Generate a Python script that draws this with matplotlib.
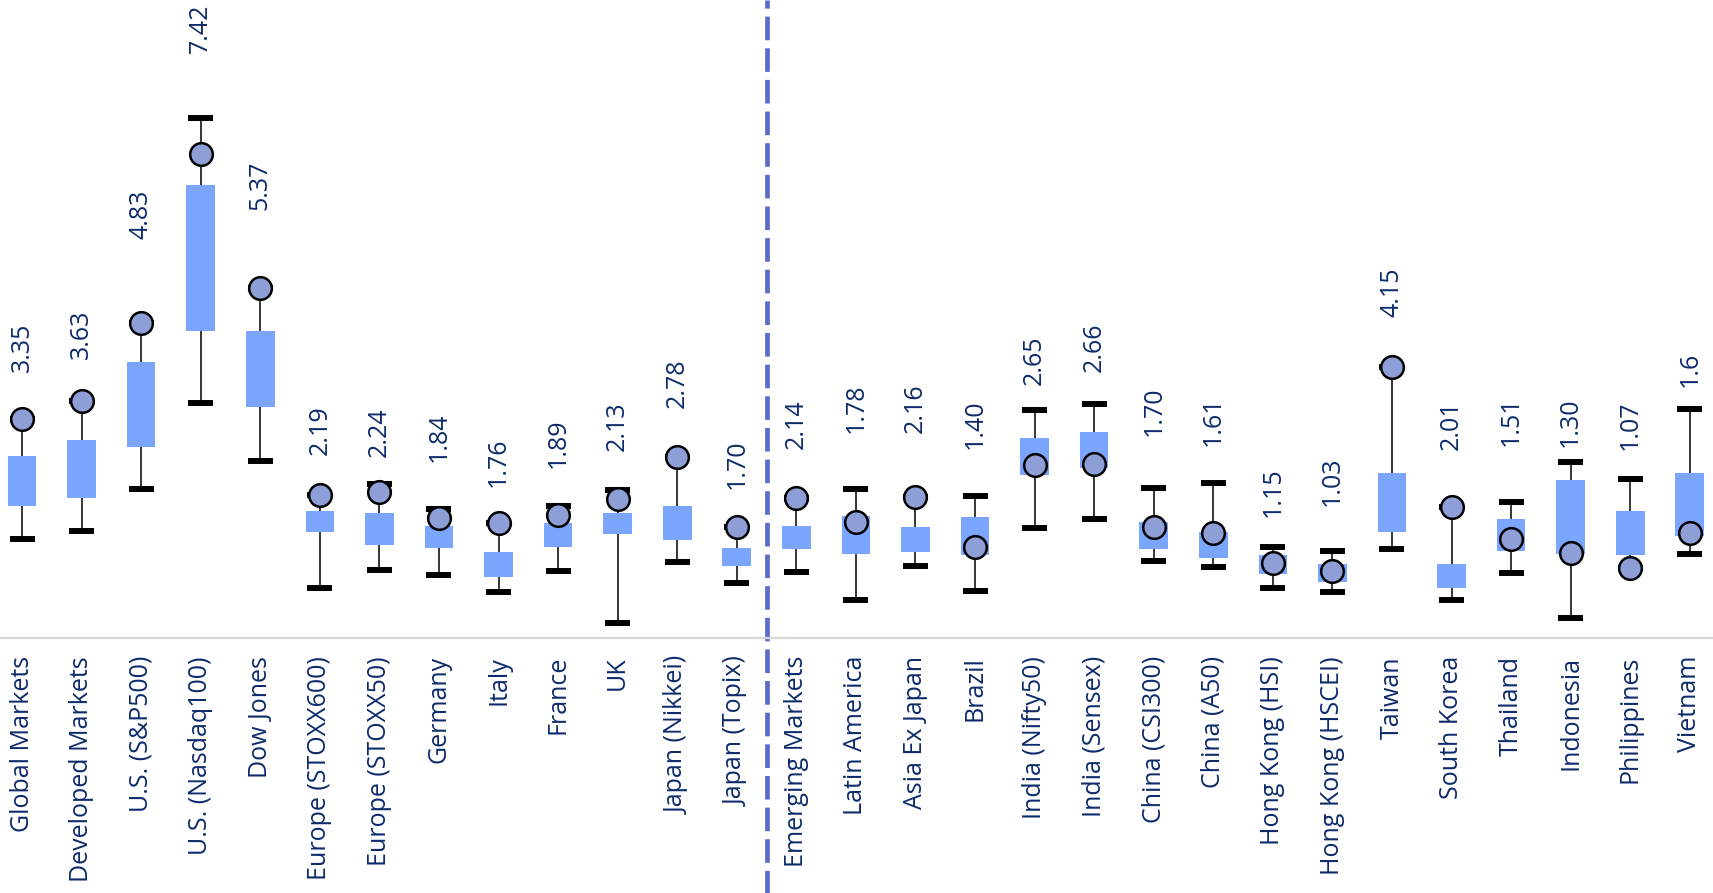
#!/usr/bin/env python3
"""Valuation range box chart: developed vs emerging equity markets."""

import matplotlib as mpl
import matplotlib.pyplot as plt
import numpy as np

MARKETS = [
    "Global Markets", "Developed Markets", "U.S. (S&P500)", "U.S. (Nasdaq100)",
    "Dow Jones", "Europe (STOXX600)", "Europe (STOXX50)", "Germany", "Italy",
    "France", "UK", "Japan (Nikkei)", "Japan (Topix)", "Emerging Markets",
    "Latin America", "Asia Ex Japan", "Brazil", "India (Nifty50)",
    "India (Sensex)", "China (CSI300)", "China (A50)", "Hong Kong (HSI)",
    "Hong Kong (HSCEI)", "Taiwan", "South Korea", "Thailand", "Indonesia",
    "Philippines", "Vietnam",
]
CURRENT = [3.35, 3.63, 4.83, 7.42, 5.37, 2.19, 2.24, 1.84, 1.76, 1.89, 2.13,
           2.78, 1.70, 2.14, 1.78, 2.16, 1.40, 2.65, 2.66, 1.70, 1.61, 1.15,
           1.03, 4.15, 2.01, 1.51, 1.30, 1.07, 1.61]
VALUE_LABELS = ["3.35", "3.63", "4.83", "7.42", "5.37", "2.19", "2.24", "1.84",
                "1.76", "1.89", "2.13", "2.78", "1.70", "2.14", "1.78", "2.16",
                "1.40", "2.65", "2.66", "1.70", "1.61", "1.15", "1.03", "4.15",
                "2.01", "1.51", "1.30", "1.07", "1.6"]
HIGH = [3.35, 3.63, 4.83, 7.97, 5.37, 2.19, 2.36, 1.98, 1.76, 2.02, 2.27,
        2.78, 1.70, 2.14, 2.28, 2.16, 2.17, 3.49, 3.58, 2.30, 2.38, 1.40,
        1.33, 4.15, 2.01, 2.09, 2.70, 2.43, 3.51]
Q3 = [2.79, 3.04, 4.23, 6.94, 4.71, 1.94, 1.92, 1.71, 1.32, 1.77, 1.91,
      2.02, 1.38, 1.71, 1.87, 1.70, 1.85, 3.07, 3.16, 1.78, 1.63, 1.27,
      1.14, 2.53, 1.14, 1.83, 2.42, 1.95, 2.53]
Q1 = [2.02, 2.15, 2.93, 4.71, 3.54, 1.63, 1.42, 1.38, 0.94, 1.40, 1.59,
      1.50, 1.10, 1.36, 1.29, 1.32, 1.27, 2.50, 2.60, 1.37, 1.22, 0.98,
      0.86, 1.62, 0.77, 1.33, 1.29, 1.27, 1.57]
LOW = [1.51, 1.64, 2.28, 3.60, 2.72, 0.77, 1.04, 0.97, 0.70, 1.02, 0.23,
       1.16, 0.85, 1.01, 0.58, 1.10, 0.72, 1.69, 1.83, 1.18, 1.09, 0.77,
       0.70, 1.36, 0.58, 0.99, 0.30, 1.07, 1.28]

# label placement (bottom of each rotated value label, in data units)
LABEL_Y = [4.08, 4.27, 6.11, 8.96, 6.56, 2.80, 2.78, 2.70, 2.31, 2.60, 2.87,
           3.53, 2.29, 2.89, 3.14, 3.14, 2.90, 3.88, 4.08, 3.10, 2.94, 1.86,
           2.02, 4.92, 2.88, 2.94, 2.93, 2.88, 3.85]
N_DEVELOPED = 13

TEXT_COLOR = "#0D2B6B"
BOX_COLOR = "#7AA6FF"
DOT_COLOR = "#8E9FD8"
SPLIT_COLOR = "#5B6CC8"


def main() -> None:
    mpl.rcParams.update({"font.family": ["Open Sans", "DejaVu Sans"]})

    fig = plt.figure(figsize=(17.13, 8.93), dpi=100)
    ax = fig.add_axes([0.0, 0.2856, 1.0, 0.7144])

    x = np.arange(len(MARKETS))
    low, high = np.array(LOW), np.array(HIGH)
    q1, q3 = np.array(Q1), np.array(Q3)

    ax.vlines(x, low, high, color="black", lw=1.1, zorder=1)
    cap = 0.21
    ax.hlines(high, x - cap, x + cap, color="black", lw=4.3, zorder=2,
              capstyle="butt")
    ax.hlines(low, x - cap, x + cap, color="black", lw=4.3, zorder=2,
              capstyle="butt")
    ax.bar(x, q3 - q1, bottom=q1, width=0.48, color=BOX_COLOR,
           edgecolor="none", zorder=3)
    ax.plot(x, CURRENT, "o", ms=16.3, mfc=DOT_COLOR, mec="black", mew=1.8,
            zorder=4, clip_on=False)

    for xi, y, txt in zip(x, LABEL_Y, VALUE_LABELS):
        ax.text(xi, y, txt, rotation=90, ha="center", va="bottom",
                fontsize=18, color=TEXT_COLOR, zorder=5)

    ax.axvline(N_DEVELOPED - 0.5, ymin=-0.41, ymax=1.0, color=SPLIT_COLOR,
               lw=3.4, ls=(0, (5.0, 1.7)), clip_on=False, zorder=0)

    ax.set_xlim(-0.37, 28.39)
    ax.set_ylim(0, 9.78)
    ax.set_xticks(x)
    ax.set_xticklabels(MARKETS, rotation=90, fontsize=18, color=TEXT_COLOR)
    ax.tick_params(axis="x", length=0, pad=13)
    ax.set_yticks([])
    for spine in ["top", "right", "left"]:
        ax.spines[spine].set_visible(False)
    ax.spines["bottom"].set_color("#D9D9D9")
    ax.spines["bottom"].set_linewidth(1.6)
    ax.patch.set_alpha(0)

    fig.savefig("out.png", dpi=100)


if __name__ == "__main__":
    main()
